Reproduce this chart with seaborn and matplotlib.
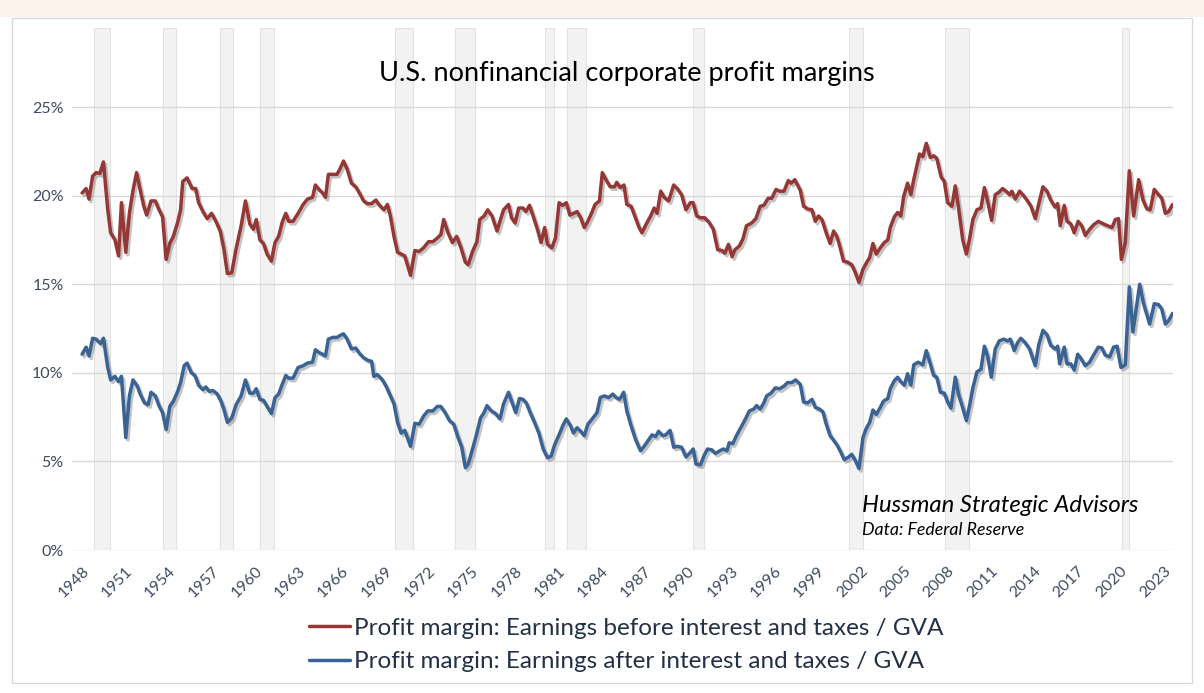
# U.S. nonfinancial corporate profit margins (EBIT and after-tax) with recession bands

import pandas as pd
import matplotlib.pyplot as plt
import matplotlib.patheffects as pe
from matplotlib.lines import Line2D
from matplotlib.patches import Rectangle
import seaborn as sns

# Profit margin: earnings before interest and taxes / GVA (%)
ebit_years = [
    1948.12, 1948.4, 1948.6, 1948.85, 1949.1, 1949.35, 1949.6, 1949.9, 1950.1, 1950.4,
    1950.65, 1950.85, 1951.15, 1951.4, 1951.65, 1951.9, 1952.1, 1952.4, 1952.6, 1952.9,
    1953.2, 1953.4, 1953.7, 1953.95, 1954.2, 1954.45, 1954.75, 1954.95, 1955.1, 1955.4,
    1955.75, 1956.0, 1956.2, 1956.5, 1956.8, 1957.1, 1957.4, 1957.7, 1957.95, 1958.2,
    1958.5, 1958.8, 1959.15, 1959.45, 1959.75, 1960.0, 1960.2, 1960.45, 1960.7, 1960.95,
    1961.25, 1961.5, 1961.75, 1962.0, 1962.25, 1962.45, 1962.75, 1963.1, 1963.45, 1963.75,
    1964.1, 1964.3, 1964.55, 1964.8, 1965.0, 1965.2, 1965.5, 1965.8, 1966.0, 1966.25,
    1966.5, 1966.8, 1967.1, 1967.35, 1967.65, 1967.9, 1968.2, 1968.5, 1968.7, 1969.05,
    1969.3, 1969.5, 1969.75, 1970.0, 1970.25, 1970.5, 1970.9, 1971.2, 1971.5, 1971.8,
    1972.15, 1972.45, 1972.75, 1973.0, 1973.2, 1973.5, 1973.8, 1974.1, 1974.4, 1974.7,
    1974.9, 1975.2, 1975.5, 1975.7, 1976.0, 1976.25, 1976.55, 1976.9, 1977.1, 1977.35,
    1977.7, 1977.9, 1978.15, 1978.4, 1978.7, 1978.9, 1979.15, 1979.4, 1979.7, 1979.95,
    1980.2, 1980.4, 1980.7, 1980.95, 1981.2, 1981.45, 1981.7, 1981.95, 1982.2, 1982.45,
    1982.7, 1982.95, 1983.2, 1983.5, 1983.7, 1984.0, 1984.2, 1984.45, 1984.75, 1985.05,
    1985.2, 1985.45, 1985.7, 1985.9, 1986.2, 1986.5, 1986.75, 1986.95, 1987.25, 1987.55,
    1987.8, 1988.0, 1988.25, 1988.5, 1988.8, 1989.15, 1989.4, 1989.7, 1990.0, 1990.3,
    1990.5, 1990.75, 1991.0, 1991.3, 1991.6, 1991.9, 1992.2, 1992.5, 1992.7, 1992.95,
    1993.2, 1993.4, 1993.7, 1993.95, 1994.2, 1994.55, 1994.85, 1995.15, 1995.4, 1995.7,
    1995.95, 1996.25, 1996.5, 1996.8, 1997.1, 1997.3, 1997.55, 1997.93, 1998.16, 1998.44,
    1998.74, 1998.97, 1999.2, 1999.43, 1999.73, 2000.0, 2000.24, 2000.47, 2000.7, 2000.93,
    2001.2, 2001.5, 2001.75, 2002.0, 2002.28, 2002.55, 2002.74, 2002.97, 2003.2, 2003.48,
    2003.76, 2004.0, 2004.17, 2004.45, 2004.68, 2004.9, 2005.1, 2005.37, 2005.6, 2005.8,
    2006.2, 2006.43, 2006.67, 2006.95, 2007.18, 2007.4, 2007.7, 2007.92, 2008.15, 2008.45,
    2008.68, 2008.9, 2009.2, 2009.45, 2009.67, 2009.9, 2010.18, 2010.46, 2010.7, 2010.92,
    2011.2, 2011.45, 2011.73, 2011.96, 2012.2, 2012.45, 2012.6, 2012.84, 2013.14, 2013.42,
    2013.65, 2013.93, 2014.23, 2014.46, 2014.76, 2015.04, 2015.3, 2015.6, 2015.78, 2015.96,
    2016.24, 2016.43, 2016.7, 2016.93, 2017.2, 2017.45, 2017.7, 2018.0, 2018.27, 2018.6,
    2018.97, 2019.25, 2019.55, 2019.78, 2020.0, 2020.2, 2020.47, 2020.75, 2021.05, 2021.4,
    2021.7, 2021.97, 2022.2, 2022.48, 2022.78, 2023.0, 2023.25, 2023.48, 2023.75,
]
ebit_values = [
    20.15, 20.4, 19.8, 21.1, 21.3, 21.25, 21.9, 19.2, 17.9, 17.5,
    16.6, 19.6, 16.8, 19.0, 20.3, 21.3, 20.5, 19.4, 18.9, 19.7,
    19.7, 19.3, 18.8, 16.4, 17.3, 17.7, 18.5, 19.2, 20.8, 21.0,
    20.4, 20.4, 19.6, 19.1, 18.7, 19.0, 18.55, 18.0, 17.0, 15.6,
    15.65, 17.0, 18.3, 19.7, 18.4, 18.1, 18.65, 17.5, 17.3, 16.7,
    16.3, 17.35, 17.7, 18.5, 19.0, 18.55, 18.55, 19.0, 19.5, 19.8,
    19.9, 20.6, 20.35, 20.15, 19.9, 21.2, 21.2, 21.2, 21.5, 21.95,
    21.5, 20.7, 20.5, 20.15, 19.7, 19.55, 19.55, 19.75, 19.5, 19.2,
    19.5, 18.85, 17.7, 16.8, 16.7, 16.6, 15.5, 16.9, 16.85, 17.05,
    17.4, 17.4, 17.6, 17.8, 18.65, 17.9, 17.35, 17.7, 17.05, 16.25,
    16.1, 16.85, 17.4, 18.65, 18.85, 19.2, 18.85, 18.0, 18.55, 19.2,
    19.5, 18.75, 18.45, 19.3, 19.3, 19.1, 19.45, 18.85, 18.1, 17.35,
    18.2, 17.25, 17.05, 17.6, 19.6, 19.45, 19.6, 18.9, 19.0, 19.1,
    18.75, 18.2, 18.55, 19.1, 19.5, 19.7, 21.3, 20.9, 20.5, 20.5,
    20.75, 20.45, 20.6, 19.5, 19.4, 18.75, 18.2, 17.9, 18.4, 18.85,
    19.3, 19.0, 20.25, 19.9, 19.7, 20.6, 20.4, 20.05, 19.2, 19.6,
    19.6, 18.85, 18.75, 18.75, 18.5, 18.1, 16.95, 16.9, 16.75, 17.25,
    16.55, 16.95, 17.15, 17.55, 18.3, 18.45, 18.7, 19.4, 19.45, 19.85,
    19.85, 20.35, 20.25, 20.25, 20.85, 20.7, 20.9, 20.3, 19.4, 19.25,
    19.2, 18.55, 18.85, 18.65, 17.9, 17.3, 18.0, 17.7, 17.05, 16.3,
    16.25, 16.1, 15.65, 15.1, 15.85, 16.25, 16.5, 17.3, 16.7, 17.05,
    17.35, 17.5, 18.2, 18.8, 19.05, 18.85, 19.95, 20.7, 20.05, 20.9,
    22.35, 22.2, 22.95, 22.15, 22.25, 22.1, 21.05, 20.8, 19.6, 19.4,
    20.55, 19.35, 17.5, 16.7, 17.55, 18.65, 19.2, 19.3, 20.45, 19.7,
    18.6, 20.05, 20.2, 20.4, 20.25, 20.05, 20.25, 19.8, 20.25, 20.0,
    19.75, 19.4, 18.7, 19.5, 20.5, 20.25, 19.75, 19.35, 19.55, 18.3,
    19.45, 18.55, 18.4, 17.9, 18.55, 18.3, 17.75, 18.1, 18.35, 18.55,
    18.4, 18.3, 18.2, 18.65, 18.7, 16.4, 17.35, 21.4, 18.85, 20.9,
    19.75, 19.25, 19.2, 20.35, 20.05, 19.85, 19.0, 19.1, 19.5,
]

# Profit margin: earnings after interest and taxes / GVA (%)
eat_years = [
    1948.12, 1948.4, 1948.6, 1948.85, 1949.1, 1949.4, 1949.6, 1949.9, 1950.1, 1950.4,
    1950.65, 1950.85, 1951.15, 1951.4, 1951.65, 1951.95, 1952.15, 1952.45, 1952.7, 1952.9,
    1953.2, 1953.45, 1953.7, 1953.95, 1954.2, 1954.45, 1954.75, 1954.95, 1955.2, 1955.4,
    1955.7, 1955.95, 1956.2, 1956.5, 1956.7, 1956.95, 1957.2, 1957.5, 1957.75, 1957.95,
    1958.2, 1958.5, 1958.8, 1959.15, 1959.45, 1959.75, 1960.0, 1960.2, 1960.45, 1960.7,
    1960.95, 1961.25, 1961.5, 1961.75, 1962.0, 1962.25, 1962.45, 1962.75, 1963.1, 1963.45,
    1963.75, 1964.1, 1964.3, 1964.55, 1964.8, 1965.0, 1965.2, 1965.5, 1965.8, 1966.0,
    1966.25, 1966.5, 1966.8, 1967.1, 1967.35, 1967.65, 1967.95, 1968.2, 1968.35, 1968.6,
    1968.95, 1969.2, 1969.45, 1969.75, 1970.0, 1970.25, 1970.5, 1970.9, 1971.2, 1971.5,
    1971.8, 1972.1, 1972.45, 1972.75, 1973.0, 1973.3, 1973.6, 1973.9, 1974.15, 1974.45,
    1974.7, 1974.9, 1975.2, 1975.5, 1975.75, 1976.0, 1976.2, 1976.5, 1976.8, 1977.1,
    1977.35, 1977.7, 1977.95, 1978.2, 1978.45, 1978.7, 1978.93, 1979.2, 1979.5, 1979.8,
    1980.1, 1980.4, 1980.65, 1980.9, 1981.2, 1981.45, 1981.7, 1982.0, 1982.2, 1982.45,
    1982.7, 1982.95, 1983.2, 1983.5, 1983.83, 1984.06, 1984.34, 1984.64, 1984.92, 1985.17,
    1985.4, 1985.68, 1985.9, 1986.2, 1986.5, 1986.85, 1987.1, 1987.4, 1987.65, 1987.9,
    1988.1, 1988.4, 1988.6, 1988.9, 1989.15, 1989.4, 1989.7, 1990.0, 1990.3, 1990.5,
    1990.7, 1991.0, 1991.3, 1991.5, 1991.8, 1992.05, 1992.35, 1992.6, 1992.85, 1993.0,
    1993.25, 1993.5, 1993.8, 1994.1, 1994.4, 1994.7, 1994.9, 1995.15, 1995.4, 1995.6,
    1995.9, 1996.2, 1996.5, 1996.8, 1997.05, 1997.35, 1997.6, 1997.93, 1998.16, 1998.44,
    1998.74, 1998.97, 1999.27, 1999.5, 1999.73, 2000.0, 2000.24, 2000.5, 2000.75, 2000.98,
    2001.28, 2001.5, 2001.75, 2002.0, 2002.28, 2002.5, 2002.74, 2002.97, 2003.2, 2003.48,
    2003.7, 2004.0, 2004.17, 2004.45, 2004.68, 2004.9, 2005.15, 2005.37, 2005.6, 2005.8,
    2006.1, 2006.43, 2006.67, 2006.95, 2007.18, 2007.4, 2007.65, 2007.92, 2008.15, 2008.38,
    2008.68, 2008.9, 2009.15, 2009.45, 2009.67, 2009.9, 2010.18, 2010.46, 2010.7, 2010.92,
    2011.18, 2011.45, 2011.73, 2012.03, 2012.3, 2012.5, 2012.77, 2013.0, 2013.23, 2013.53,
    2013.83, 2014.23, 2014.46, 2014.76, 2015.04, 2015.3, 2015.6, 2015.78, 2015.92, 2016.24,
    2016.43, 2016.7, 2016.93, 2017.17, 2017.4, 2017.7, 2018.0, 2018.27, 2018.6, 2018.85,
    2019.08, 2019.38, 2019.66, 2019.9, 2020.17, 2020.47, 2020.75, 2021.0, 2021.47, 2021.74,
    2022.16, 2022.48, 2022.78, 2023.0, 2023.25, 2023.48, 2023.75,
]
eat_values = [
    11.05, 11.45, 10.95, 11.95, 11.9, 11.65, 11.95, 10.3, 9.6, 9.8,
    9.5, 9.8, 6.35, 8.7, 9.6, 9.25, 8.8, 8.3, 8.2, 8.9,
    8.7, 8.15, 7.75, 6.8, 8.1, 8.4, 8.95, 9.45, 10.4, 10.55,
    10.0, 9.85, 9.3, 9.05, 9.2, 8.95, 9.0, 8.8, 8.4, 7.95,
    7.2, 7.45, 8.2, 8.7, 9.6, 8.85, 8.85, 9.1, 8.5, 8.45,
    8.1, 7.7, 8.6, 8.8, 9.35, 9.85, 9.7, 9.7, 10.3, 10.4,
    10.55, 10.6, 11.3, 11.15, 11.05, 10.95, 11.9, 12.0, 12.0, 12.1,
    12.2, 11.9, 11.35, 11.4, 11.1, 10.85, 10.7, 10.65, 9.8, 9.9,
    9.6, 9.25, 8.8, 8.25, 7.2, 6.6, 6.75, 5.85, 7.15, 7.1,
    7.55, 7.85, 7.85, 8.1, 8.1, 7.75, 7.3, 7.1, 6.45, 5.8,
    4.65, 4.85, 5.7, 6.6, 7.45, 7.75, 8.15, 7.85, 7.7, 7.4,
    8.25, 8.9, 8.3, 7.75, 8.55, 8.5, 8.3, 7.75, 7.2, 6.6,
    5.7, 5.2, 5.3, 5.95, 6.5, 7.0, 7.4, 7.0, 6.6, 6.9,
    6.7, 6.45, 7.1, 7.4, 7.75, 8.6, 8.7, 8.6, 8.8, 8.6,
    8.5, 8.9, 7.85, 7.0, 6.25, 5.6, 5.85, 6.2, 6.5, 6.4,
    6.7, 6.45, 6.5, 6.75, 5.8, 5.85, 5.8, 5.25, 5.5, 5.7,
    4.85, 4.8, 5.4, 5.7, 5.65, 5.45, 5.6, 5.7, 5.6, 6.05,
    6.0, 6.45, 6.9, 7.35, 7.85, 7.95, 8.15, 7.95, 8.3, 8.7,
    8.85, 9.15, 9.1, 9.25, 9.45, 9.45, 9.6, 9.35, 8.35, 8.3,
    8.5, 8.05, 7.95, 7.8, 7.1, 6.45, 6.2, 5.9, 5.5, 5.1,
    5.25, 5.4, 5.05, 4.6, 6.35, 6.85, 7.2, 7.9, 7.65, 8.05,
    8.4, 8.55, 9.1, 9.55, 9.75, 9.5, 9.3, 9.95, 9.3, 10.45,
    10.6, 10.45, 11.25, 10.5, 9.85, 9.75, 8.9, 8.85, 8.35, 8.0,
    9.75, 8.8, 8.15, 7.3, 8.15, 9.15, 10.05, 10.2, 11.5, 10.95,
    9.75, 11.35, 11.8, 11.9, 11.8, 11.9, 11.25, 11.7, 11.95, 11.7,
    11.35, 10.4, 11.55, 12.4, 12.15, 11.55, 11.35, 11.5, 10.5, 11.45,
    10.5, 10.5, 10.15, 11.05, 10.8, 10.4, 10.6, 11.0, 11.45, 11.4,
    11.0, 10.9, 11.45, 11.5, 10.3, 10.45, 14.85, 12.3, 15.0, 13.9,
    12.75, 13.9, 13.85, 13.6, 12.75, 12.95, 13.35,
]

# Recession periods (start, end)
recession_starts = [1948.92, 1953.7, 1957.7, 1960.43, 1969.85, 1973.95,
                    1980.24, 1981.75, 1990.5, 2001.3, 2007.98, 2020.25]
recession_ends = [1950.08, 1954.6, 1958.6, 1961.4, 1971.07, 1975.39,
                  1980.86, 1983.1, 1991.24, 2002.3, 2009.6, 2020.7]

tick_years = list(range(1948, 2024, 3))
ytick_values = [0, 5, 10, 15, 20, 25]

label_ebit = "Profit margin: Earnings before interest and taxes / GVA"
label_eat = "Profit margin: Earnings after interest and taxes / GVA"
red = "#953735"
blue = "#3a6395"
text_col = "#3f4a60"

df = pd.concat([
    pd.DataFrame({"year": ebit_years, "margin": ebit_values, "series": label_ebit}),
    pd.DataFrame({"year": eat_years, "margin": eat_values, "series": label_eat}),
])

sns.set_theme(style="white")
plt.rcParams["font.family"] = ["Lato", "DejaVu Sans"]

fig = plt.figure(figsize=(12.04, 6.93), dpi=100)
ax = fig.add_axes([72 / 1204, 143 / 693, 1101 / 1204, 522 / 693])

# recession shading
for s, e in zip(recession_starts, recession_ends):
    ax.axvspan(s, e, facecolor="#f2f2f2", edgecolor="#e2e2e2", lw=0.8, zorder=0.2)

shadow = [pe.SimpleLineShadow(offset=(1.5, -1.8), shadow_color="#555555", alpha=0.35),
          pe.Normal()]
sns.lineplot(data=df, x="year", y="margin", hue="series",
             palette={label_ebit: red, label_eat: blue},
             estimator=None, sort=False, lw=2.5, legend=False,
             path_effects=shadow, ax=ax, zorder=3)

ax.set_xlim(1947.42, 2023.78)
ax.set_ylim(0, 29.46)
ax.set_yticks(ytick_values)
ax.set_yticklabels([f"{v}%" for v in ytick_values], color=text_col, fontsize=11.5)
ax.set_xticks([y + 0.125 for y in tick_years])
ax.set_xticklabels([str(y) for y in tick_years], rotation=45, ha="right",
                   rotation_mode="anchor", color=text_col, fontsize=11.5)
ax.tick_params(axis="both", length=0)
ax.tick_params(axis="y", pad=6)
ax.tick_params(axis="x", pad=10)
ax.yaxis.grid(True, color="#d9d9d9", lw=1)
ax.xaxis.grid(False)
ax.set_axisbelow(True)
ax.set_xlabel("")
ax.set_ylabel("")
for sp in ax.spines.values():
    sp.set_visible(False)
ax.patch.set_alpha(0)

# title and source note
fig.text(627 / 1204, 1 - 73 / 693, "U.S. nonfinancial corporate profit margins",
         ha="center", va="center", fontsize=19.5, color="black")
fig.text(862 / 1204, 1 - 505 / 693, "Hussman Strategic Advisors",
         ha="left", va="center", fontsize=17.2, style="italic", color="black")
fig.text(862 / 1204, 1 - 530 / 693, "Data: Federal Reserve",
         ha="left", va="center", fontsize=12.8, style="italic", color="black")

# legend below the plot
handles = [Line2D([0], [0], color=red, lw=2.5), Line2D([0], [0], color=blue, lw=2.5)]
fig.legend(handles, [label_ebit, label_eat], loc="center",
           bbox_to_anchor=(626 / 1204, 1 - 645 / 693), frameon=False,
           fontsize=17.5, labelcolor="#243046", handlelength=1.7,
           handletextpad=0.15, labelspacing=0.5)

# page strip and chart border
fig.patches.append(Rectangle((0, 1 - 17 / 693), 1, 17 / 693, transform=fig.transFigure,
                             facecolor="#fdf2ec", edgecolor="none", zorder=0))
fig.patches.append(Rectangle((12 / 1204, 10 / 693), 1180 / 1204, 665 / 693,
                             transform=fig.transFigure, facecolor="none",
                             edgecolor="#d9d9d9", lw=1, zorder=0))

plt.savefig("out.png", dpi=100)
